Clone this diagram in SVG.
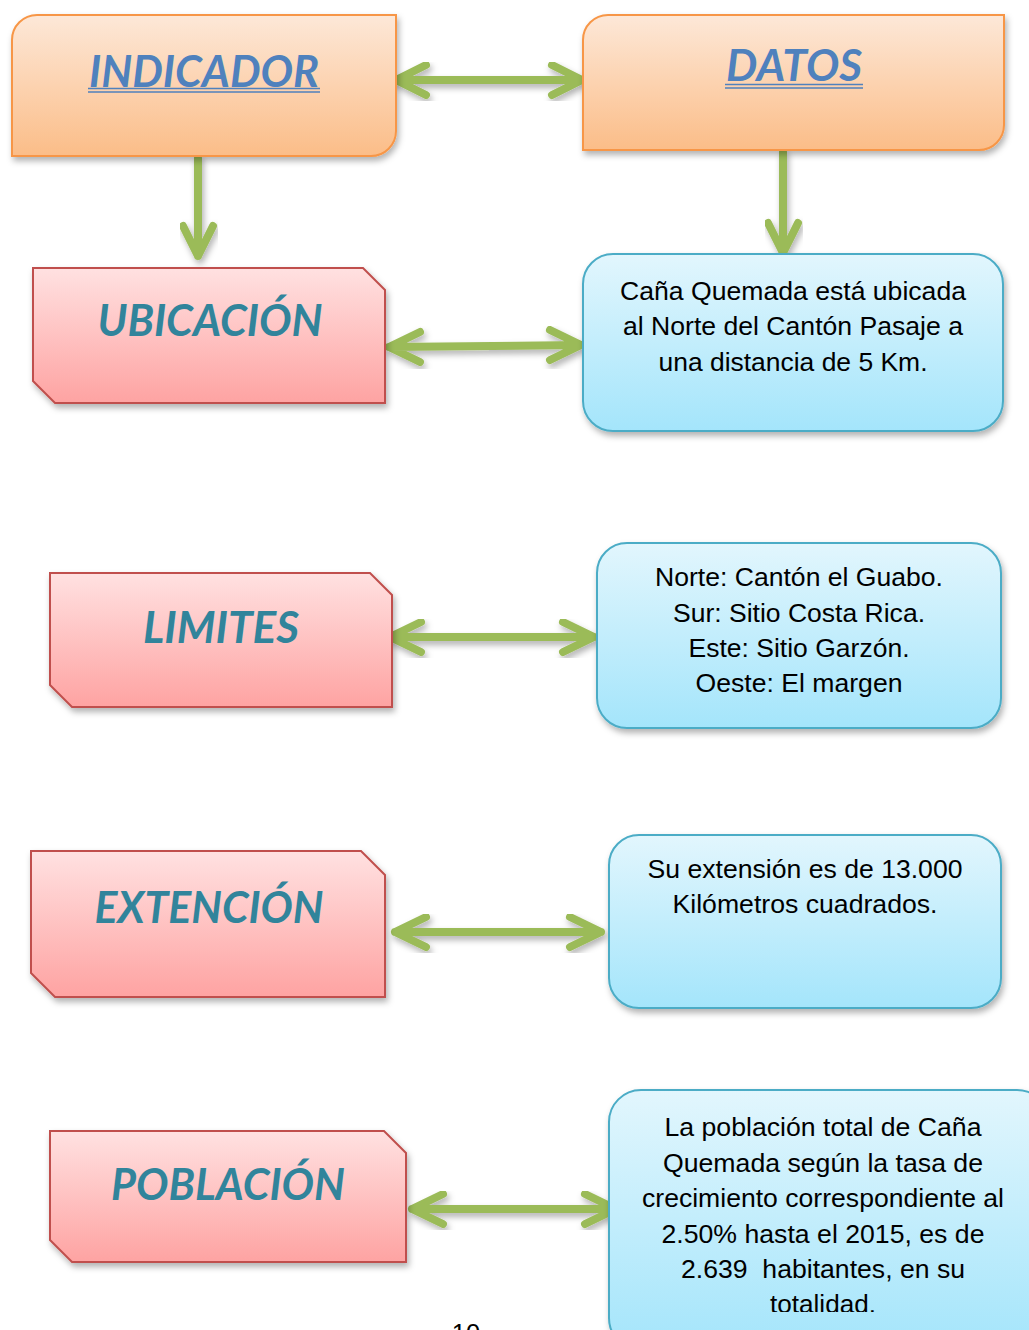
<svg xmlns="http://www.w3.org/2000/svg" width="1029" height="1330" viewBox="0 0 1029 1330">
<defs>
<linearGradient id="gOrange" x1="0" y1="0" x2="0" y2="1"><stop offset="0" stop-color="#fde8d8"/><stop offset="1" stop-color="#fbbd88"/></linearGradient>
<linearGradient id="gRed" x1="0" y1="0" x2="0" y2="1"><stop offset="0" stop-color="#ffe1e1"/><stop offset="1" stop-color="#fea3a2"/></linearGradient>
<linearGradient id="gBlue" x1="0" y1="0" x2="0" y2="1"><stop offset="0" stop-color="#e2f6fd"/><stop offset="1" stop-color="#a4e5fb"/></linearGradient>
<filter id="sh" x="-10%" y="-10%" width="125%" height="130%"><feDropShadow dx="2" dy="4" stdDeviation="3" flood-color="#000" flood-opacity="0.3"/></filter>
<clipPath id="clipPob"><rect x="600" y="1080" width="429" height="232"/></clipPath>
</defs>
<style>
.or{fill:url(#gOrange);stroke:#f79646;stroke-width:2;filter:url(#sh)}
.rd{fill:url(#gRed);stroke:#c0504d;stroke-width:2;filter:url(#sh)}
.bl{fill:url(#gBlue);stroke:#4bacc6;stroke-width:2;filter:url(#sh)}
.ht{font-family:Lato,"Open Sans",sans-serif;font-weight:bold;font-style:italic;font-size:44px;text-anchor:middle}
.hb{fill:#4f81bd}
.hr{fill:#31849b}
.ul{stroke:#4f81bd;stroke-width:1.6}
.tx{font-family:"Liberation Sans",Arial,sans-serif;font-size:25.5px;fill:#000;text-anchor:middle}
.ar{fill:none;stroke:#9bbb59;stroke-width:8;stroke-linecap:round;stroke-linejoin:round;filter:url(#sh)}
</style>
<rect width="1029" height="1330" fill="#fff"/>

<g id="connectors">
<path class="ar" d="M396,80 L582,80 M426,65 L396,80 L426,95 M552,65 L582,80 L552,95"/>
<path class="ar" d="M198,158 L198,256 M183,226 L198,256 L213,226"/>
<path class="ar" d="M783,152 L783,253 M768,223 L783,253 L798,223"/>
<path class="ar" d="M389,347 L581,345 M420,332 L389,347 L420,362 M550,330 L581,345 L550,360"/>
<path class="ar" d="M390,637 L594,637 M421,622 L390,637 L421,652 M563,622 L594,637 L563,652"/>
<path class="ar" d="M395,932 L601,932 M426,917 L395,932 L426,947 M570,917 L601,932 L570,947"/>
<path class="ar" d="M412,1209 L616,1209 M443,1194 L412,1209 L443,1224 M585,1194 L616,1209 L585,1224"/>
</g>

<g id="indicador">
<path class="or" d="M37,15 L396,15 L396,131 A25,25 0 0 1 371,156 L12,156 L12,40 A25,25 0 0 1 37,15 Z"/>
<text class="ht hb" x="204" y="87" textLength="230" lengthAdjust="spacingAndGlyphs">INDICADOR</text>
<line class="ul" x1="88" y1="88.5" x2="320" y2="88.5"/>
<line class="ul" x1="88" y1="92" x2="320" y2="92"/>
</g>

<g id="datos">
<path class="or" d="M608,15 L1004,15 L1004,125 A25,25 0 0 1 979,150 L583,150 L583,40 A25,25 0 0 1 608,15 Z"/>
<text class="ht hb" x="794" y="81" textLength="136" lengthAdjust="spacingAndGlyphs">DATOS</text>
<line class="ul" x1="725" y1="84.5" x2="863" y2="84.5"/>
<line class="ul" x1="725" y1="88" x2="863" y2="88"/>
</g>

<g id="ubicacion">
<path class="rd" d="M33,268 L363,268 L385,290 L385,403 L55,403 L33,381 Z"/>
<text class="ht hr" x="210" y="336" textLength="225" lengthAdjust="spacingAndGlyphs">UBICACIÓN</text>
</g>

<g id="ubicacion-datos">
<rect class="bl" x="583" y="254" width="420" height="177" rx="30" ry="30"/>
<text class="tx" x="793" y="300" textLength="346" lengthAdjust="spacingAndGlyphs">Caña Quemada está ubicada</text>
<text class="tx" x="793" y="335" textLength="340" lengthAdjust="spacingAndGlyphs">al Norte del Cantón Pasaje a</text>
<text class="tx" x="793" y="371" textLength="269" lengthAdjust="spacingAndGlyphs">una distancia de 5 Km.</text>
</g>

<g id="limites">
<path class="rd" d="M50,573 L370,573 L392,595 L392,707 L72,707 L50,685 Z"/>
<text class="ht hr" x="221" y="643" textLength="156" lengthAdjust="spacingAndGlyphs">LIMITES</text>
</g>

<g id="limites-datos">
<rect class="bl" x="597" y="543" width="404" height="185" rx="30" ry="30"/>
<text class="tx" x="799" y="586" textLength="288" lengthAdjust="spacingAndGlyphs">Norte: Cantón el Guabo.</text>
<text class="tx" x="799" y="622" textLength="252" lengthAdjust="spacingAndGlyphs">Sur: Sitio Costa Rica.</text>
<text class="tx" x="799" y="657" textLength="221" lengthAdjust="spacingAndGlyphs">Este: Sitio Garzón.</text>
<text class="tx" x="799" y="692" textLength="207" lengthAdjust="spacingAndGlyphs">Oeste: El margen</text>
</g>

<g id="extencion">
<path class="rd" d="M31,851 L361,851 L385,875 L385,997 L55,997 L31,973 Z"/>
<text class="ht hr" x="209" y="923" textLength="229" lengthAdjust="spacingAndGlyphs">EXTENCIÓN</text>
</g>

<g id="extencion-datos">
<rect class="bl" x="609" y="835" width="392" height="173" rx="30" ry="30"/>
<text class="tx" x="805" y="878" textLength="315" lengthAdjust="spacingAndGlyphs">Su extensión es de 13.000</text>
<text class="tx" x="805" y="913" textLength="265" lengthAdjust="spacingAndGlyphs">Kilómetros cuadrados.</text>
</g>

<g id="poblacion">
<path class="rd" d="M50,1131 L384,1131 L406,1153 L406,1262 L72,1262 L50,1240 Z"/>
<text class="ht hr" x="228" y="1200" textLength="234" lengthAdjust="spacingAndGlyphs">POBLACIÓN</text>
</g>

<g id="poblacion-datos">
<rect class="bl" x="609" y="1090" width="440" height="260" rx="32" ry="32"/>
<g clip-path="url(#clipPob)">
<text class="tx" x="823" y="1136" textLength="317" lengthAdjust="spacingAndGlyphs">La población total de Caña</text>
<text class="tx" x="823" y="1172" textLength="320" lengthAdjust="spacingAndGlyphs">Quemada según la tasa de</text>
<text class="tx" x="823" y="1207" textLength="362" lengthAdjust="spacingAndGlyphs">crecimiento correspondiente al</text>
<text class="tx" x="823" y="1243" textLength="323" lengthAdjust="spacingAndGlyphs">2.50% hasta el 2015, es de</text>
<text class="tx" x="823" y="1278" textLength="284" lengthAdjust="spacingAndGlyphs" style="white-space:pre">2.639  habitantes, en su</text>
<text class="tx" x="823" y="1313" textLength="106" lengthAdjust="spacingAndGlyphs">totalidad.</text>
</g>
</g>

<text class="tx" x="466" y="1342">10</text>
</svg>
